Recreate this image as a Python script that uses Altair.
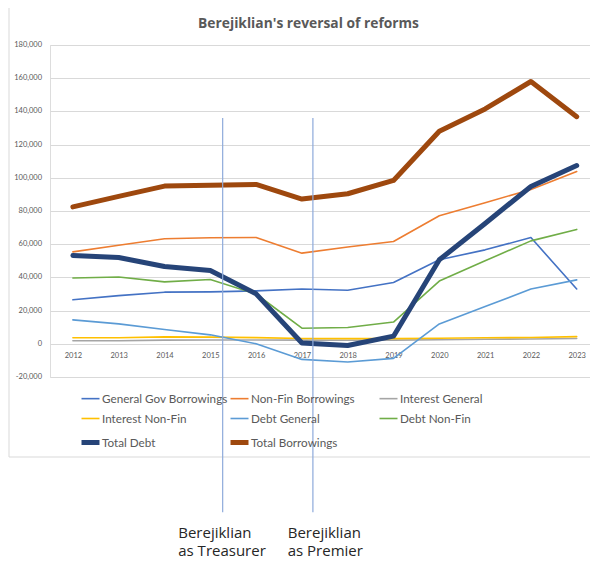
import altair as alt
import pandas as pd

years = list(range(2012, 2024))

series_names = [
    "General Gov Borrowings", "Non-Fin Borrowings", "Interest General",
    "Interest Non-Fin", "Debt General", "Debt Non-Fin",
    "Total Debt", "Total Borrowings",
]

general_gov_borrowings = [26500, 29000, 31100, 31300, 31900, 33000, 32300, 36900, 50600, 56600, 64000, 33000]
non_fin_borrowings = [55400, 59400, 63300, 63900, 64000, 54600, 58300, 61600, 77100, 85000, 93000, 103800]
interest_general = [1800, 1800, 2200, 2300, 2300, 2200, 2100, 2200, 2400, 2700, 2900, 3200]
interest_non_fin = [3600, 3600, 4200, 4000, 3700, 3200, 3100, 3100, 3300, 3600, 3800, 4300]
debt_general = [14400, 12000, 8600, 5400, 0, -9400, -11000, -8800, 12000, 22400, 33000, 38500]
debt_non_fin = [39600, 40200, 37300, 38700, 30000, 9400, 9800, 13100, 37800, 50000, 62000, 68900]
total_debt = [53200, 52000, 46600, 44200, 30100, 500, -1000, 4600, 50600, 72500, 94800, 107400]
total_borrowings = [82500, 88800, 95000, 95500, 96000, 87200, 90400, 98400, 128000, 141500, 158000, 136800]

all_values = [
    general_gov_borrowings, non_fin_borrowings, interest_general,
    interest_non_fin, debt_general, debt_non_fin, total_debt, total_borrowings,
]

colors = ["#4472C4", "#ED7D31", "#A5A5A5", "#FFC000", "#5B9BD5", "#70AD47", "#264478", "#9E480E"]
line_widths = [1.6, 1.6, 1.6, 1.6, 1.6, 1.6, 5, 5]

y_ticks = list(range(-20000, 180001, 20000))
y_tick_labels = ["-20,000", "0", "20,000", "40,000", "60,000", "80,000", "100,000",
                 "120,000", "140,000", "160,000", "180,000"]

# annotations
ann_line_x = [2015.27, 2017.24]
ann_line_top = [136000, 136000]
ann_line_bottom = [-101500, -101500]
ann_text_x = [2014.30, 2016.69]
ann_text_y = [-117000, -117000]
ann_text = ["Berejiklian\nas Treasurer", "Berejiklian\nas Premier"]

records = []
for name, vals in zip(series_names, all_values):
    for yr, v in zip(years, vals):
        records.append({"year": yr, "series": name, "value": v})
df = pd.DataFrame(records)

ann_lines = pd.DataFrame({"x": ann_line_x, "top": ann_line_top, "bottom": ann_line_bottom})
ann_texts = pd.DataFrame({"x": ann_text_x, "y": ann_text_y, "label": ann_text})
ticks_df = pd.DataFrame({"value": y_ticks, "label": y_tick_labels})

grey = "#595959"

x_scale = alt.Scale(domain=[2011.5, 2023.29], nice=False, zero=False)
y_scale = alt.Scale(domain=[-20000, 180000], nice=False, zero=False)


def x_axis():
    return alt.Axis(
        values=years, format="d", grid=False, ticks=False, domain=False,
        labelColor=grey, labelFont="Lato", labelFontSize=7.5, labelPadding=7,
        offset=-33, title=None, labelOverlap=False,
    )


def y_axis():
    return alt.Axis(
        values=y_ticks, grid=True, gridColor="#d9d9d9", gridWidth=1,
        ticks=False, domain=False, labels=False, title=None,
    )


x_enc = alt.X("year:Q", scale=x_scale, axis=x_axis())
y_enc = alt.Y("value:Q", scale=y_scale, axis=y_axis())


def make_legend():
    return alt.Legend(
        title=None, orient="none", legendX=29, legendY=341, columns=3,
        direction="horizontal",
        symbolType="stroke", symbolSize=324,
        labelFont="Lato", labelFontSize=11.7, labelColor=grey, labelOffset=0,
        columnPadding=-10, rowPadding=0.5, gridAlign="all", padding=0, labelLimit=300,
    )


color_enc = alt.Color(
    "series:N",
    scale=alt.Scale(domain=series_names, range=colors),
    legend=make_legend(),
)
width_enc = alt.StrokeWidth(
    "series:N",
    scale=alt.Scale(type="ordinal", domain=series_names, range=line_widths),
    legend=make_legend(),
)

frame = alt.Chart(pd.DataFrame({"a": [0]})).mark_rect(
    fillOpacity=0, stroke="#d9d9d9", strokeWidth=1
).encode(x=alt.value(-41), x2=alt.value(600), y=alt.value(-38), y2=alt.value(412))

y_labels = alt.Chart(ticks_df).mark_text(
    align="right", baseline="middle", font="Lato", fontSize=7.5, color=grey, dx=-8
).encode(x=alt.value(0), y=alt.Y("value:Q", scale=y_scale, axis=y_axis()), text="label:N")

layers = [frame, y_labels]
for name in series_names:
    layers.append(
        alt.Chart(df)
        .transform_filter(alt.datum.series == name)
        .mark_line(strokeCap="round", strokeJoin="round")
        .encode(x=x_enc, y=y_enc, color=color_enc, strokeWidth=width_enc)
    )

rules = alt.Chart(ann_lines).mark_rule(color="#8eaadb", strokeWidth=1.2).encode(
    x=alt.X("x:Q", scale=x_scale, axis=x_axis()),
    y=alt.Y("top:Q", scale=y_scale, axis=y_axis()),
    y2="bottom:Q",
)
texts = alt.Chart(ann_texts).mark_text(
    align="left", baseline="alphabetic", font="Open Sans", fontSize=15,
    lineHeight=17.5, color="#262626", lineBreak="\n"
).encode(
    x=alt.X("x:Q", scale=x_scale, axis=x_axis()),
    y=alt.Y("y:Q", scale=y_scale, axis=y_axis()),
    text="label:N",
)

layers += [rules, texts]

chart = (
    alt.layer(*layers)
    .properties(
        width=540, height=332,
        title=alt.TitleParams(
            "Berejiklian's reversal of reforms", font="Open Sans", fontSize=13.8,
            fontWeight="bold", color=grey, anchor="middle", dx=-11.5,
            frame="group", baseline="alphabetic", offset=14.5, dy=50,
        ),
        autosize=alt.AutoSizeParams(type="none"),
        padding={"left": 42, "top": 37, "right": 0, "bottom": 180},
    )
    .configure_view(strokeWidth=0)
    .configure(background="white")
)

chart.save("out.html", embed_options={"renderer": "svg", "actions": False})
